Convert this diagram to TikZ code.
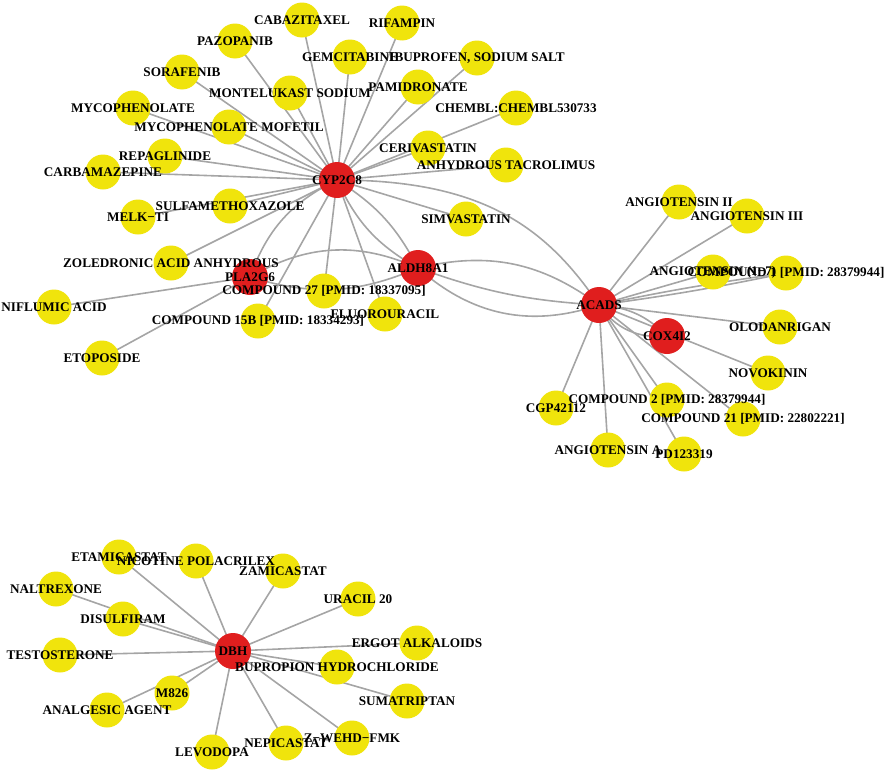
\documentclass[tikz,border=0pt]{standalone}
\usepackage{fontspec}
\setmainfont{Liberation Serif}
\pgfdeclarelayer{bg}
\pgfsetlayers{bg,main}
\definecolor{nodeyellow}{RGB}{240,228,12}
\definecolor{nodered}{RGB}{224,30,30}
\definecolor{edgegray}{RGB}{165,165,165}
\begin{document}
\begin{tikzpicture}[x=1pt,y=-1pt,
  drug/.style={circle,fill=nodeyellow,minimum size=35pt,inner sep=0pt},
  gene/.style={circle,fill=nodered,minimum size=36pt,inner sep=0pt},
  lbl/.style={font=\fontsize{13.2}{15}\selectfont\bfseries,inner sep=0pt,text=black},
  edge/.style={draw=edgegray,line width=1.6pt}]
\useasboundingbox (0,0) rectangle (886,771);
\foreach \n/\x/\y/\t/\s in {
 cab/302/20/{CABAZITAXEL}/drug,
 rif/402/23/{RIFAMPIN}/drug,
 paz/235/41/{PAZOPANIB}/drug,
 gem/350/57/{GEMCITABINE}/drug,
 ibu/477/58/{IBUPROFEN, SODIUM SALT}/drug,
 sor/182/72/{SORAFENIB}/drug,
 mon/290/93/{MONTELUKAST SODIUM}/drug,
 pam/418/87/{PAMIDRONATE}/drug,
 myc/133/108/{MYCOPHENOLATE}/drug,
 che/516/108/{CHEMBL:CHEMBL530733}/drug,
 mmf/229/127/{MYCOPHENOLATE MOFETIL}/drug,
 cer/428/148/{CERIVASTATIN}/drug,
 rep/165/156/{REPAGLINIDE}/drug,
 tac/506/165/{ANHYDROUS TACROLIMUS}/drug,
 car/103/172/{CARBAMAZEPINE}/drug,
 cyp/337/180/{CYP2C8}/gene,
 sul/230/206/{SULFAMETHOXAZOLE}/drug,
 mel/138/217/{MELK−TI}/drug,
 sim/466/219/{SIMVASTATIN}/drug,
 zol/171/263/{ZOLEDRONIC ACID ANHYDROUS}/drug,
 pla/250/277/{PLA2G6}/gene,
 ald/418/268/{ALDH8A1}/gene,
 c27/324/291/{COMPOUND 27 [PMID: 18337095]}/drug,
 nif/54/307/{NIFLUMIC ACID}/drug,
 flu/385/314/{FLUOROURACIL}/drug,
 c15/258/321/{COMPOUND 15B [PMID: 18334293]}/drug,
 eto/102/358/{ETOPOSIDE}/drug,
 an2/679/202/{ANGIOTENSIN II}/drug,
 an3/747/216/{ANGIOTENSIN III}/drug,
 a17/713/272/{ANGIOTENSIN (1−7)}/drug,
 c1/786/273/{COMPOUND 1 [PMID: 28379944]}/drug,
 aca/599/305/{ACADS}/gene,
 olo/780/327/{OLODANRIGAN}/drug,
 cox/667/336/{COX4I2}/gene,
 nov/768/373/{NOVOKININ}/drug,
 c2/667/400/{COMPOUND 2 [PMID: 28379944]}/drug,
 cgp/556/408/{CGP42112}/drug,
 c21/743/419/{COMPOUND 21 [PMID: 22802221]}/drug,
 ana/608/450/{ANGIOTENSIN A}/drug,
 pd/684/454/{PD123319}/drug,
 eta/119/557/{ETAMICASTAT}/drug,
 nic/196/561/{NICOTINE POLACRILEX}/drug,
 zam/283/571/{ZAMICASTAT}/drug,
 nal/56/589/{NALTREXONE}/drug,
 ura/358/599/{URACIL 20}/drug,
 dis/123/619/{DISULFIRAM}/drug,
 dbh/233/651/{DBH}/gene,
 erg/417/643/{ERGOT ALKALOIDS}/drug,
 tes/60/655/{TESTOSTERONE}/drug,
 bup/337/667/{BUPROPION HYDROCHLORIDE}/drug,
 m82/172/693/{M826}/drug,
 sum/407/701/{SUMATRIPTAN}/drug,
 anl/107/710/{ANALGESIC AGENT}/drug,
 nep/286/743/{NEPICASTAT}/drug,
 zwe/352/738/{Z−WEHD−FMK}/drug,
 lev/212/752/{LEVODOPA}/drug}
{\node[\s] (\n) at (\x,\y) {};}
\foreach \n/\t in {
 cab/{CABAZITAXEL}, rif/{RIFAMPIN}, paz/{PAZOPANIB}, gem/{GEMCITABINE},
 ibu/{IBUPROFEN, SODIUM SALT}, sor/{SORAFENIB}, mon/{MONTELUKAST SODIUM},
 pam/{PAMIDRONATE}, myc/{MYCOPHENOLATE}, che/{CHEMBL:CHEMBL530733},
 mmf/{MYCOPHENOLATE MOFETIL}, cer/{CERIVASTATIN}, rep/{REPAGLINIDE},
 tac/{ANHYDROUS TACROLIMUS}, car/{CARBAMAZEPINE}, cyp/{CYP2C8},
 sul/{SULFAMETHOXAZOLE}, mel/{MELK−TI}, sim/{SIMVASTATIN},
 zol/{ZOLEDRONIC ACID ANHYDROUS}, pla/{PLA2G6}, ald/{ALDH8A1},
 c27/{COMPOUND 27 [PMID: 18337095]}, nif/{NIFLUMIC ACID}, flu/{FLUOROURACIL},
 c15/{COMPOUND 15B [PMID: 18334293]}, eto/{ETOPOSIDE},
 an2/{ANGIOTENSIN II}, an3/{ANGIOTENSIN III}, a17/{ANGIOTENSIN (1−7)},
 c1/{COMPOUND 1 [PMID: 28379944]}, aca/{ACADS}, olo/{OLODANRIGAN},
 cox/{COX4I2}, nov/{NOVOKININ}, c2/{COMPOUND 2 [PMID: 28379944]},
 cgp/{CGP42112}, c21/{COMPOUND 21 [PMID: 22802221]}, ana/{ANGIOTENSIN A},
 pd/{PD123319}, eta/{ETAMICASTAT}, nic/{NICOTINE POLACRILEX},
 zam/{ZAMICASTAT}, nal/{NALTREXONE}, ura/{URACIL 20}, dis/{DISULFIRAM},
 dbh/{DBH}, erg/{ERGOT ALKALOIDS}, tes/{TESTOSTERONE},
 bup/{BUPROPION HYDROCHLORIDE}, m82/{M826}, sum/{SUMATRIPTAN},
 anl/{ANALGESIC AGENT}, nep/{NEPICASTAT}, zwe/{Z−WEHD−FMK}, lev/{LEVODOPA}}
{\node[lbl] (\n-l) at (\n.center) {\t};}
\begin{pgfonlayer}{bg}
\foreach \a/\b in {
 cyp/cab, cyp/rif, cyp/paz, cyp/gem, cyp/ibu, cyp/sor, cyp/mon, cyp/pam,
 cyp/myc, cyp/che, cyp/mmf, cyp/cer, cyp/rep, cyp/tac, cyp/car, cyp/sul,
 cyp/mel, cyp/sim, cyp/zol, cyp/c27, cyp/c15, cyp/flu,
 pla/nif, pla/eto,
 aca/an2, aca/an3, aca/a17, aca/olo, aca/nov, aca/c2, aca/cgp, aca/c21,
 aca/ana, aca/pd,
 dbh/eta, dbh/nic, dbh/zam, dbh/nal, dbh/ura, dbh/dis, dbh/erg, dbh/tes,
 dbh/bup, dbh/m82, dbh/sum, dbh/anl, dbh/nep, dbh/zwe, dbh/lev}
{\draw[edge] (\a.center) -- (\b.center);}
\draw[edge] (cyp.center) to[bend right=22] (pla.center);
\draw[edge] (cyp.center) to[bend right=18] (ald.center);
\draw[edge] (cyp.center) to[bend left=15] (ald.center);
\draw[edge] (cyp.center) .. controls (480,180) and (545,225) .. (aca.center);
\draw[edge] (pla.center) to[bend left=27] (ald.center);
\draw[edge] (pla.center) to[bend right=20] (ald.center);
\draw[edge] (ald.center) to[bend left=25] (aca.center);
\draw[edge] (ald.center) to[bend right=8] (aca.center);
\draw[edge] (ald.center) to[bend right=30] (aca.center);
\draw[edge] (aca.center) to[bend left=20] (cox.center);
\draw[edge] (aca.center) to[bend right=30] (cox.center);
\draw[edge] (aca.center) to[bend left=2] (c1.center);
\draw[edge] (aca.center) to[bend right=2] (c1.center);
\end{pgfonlayer}
\end{tikzpicture}
\end{document}
